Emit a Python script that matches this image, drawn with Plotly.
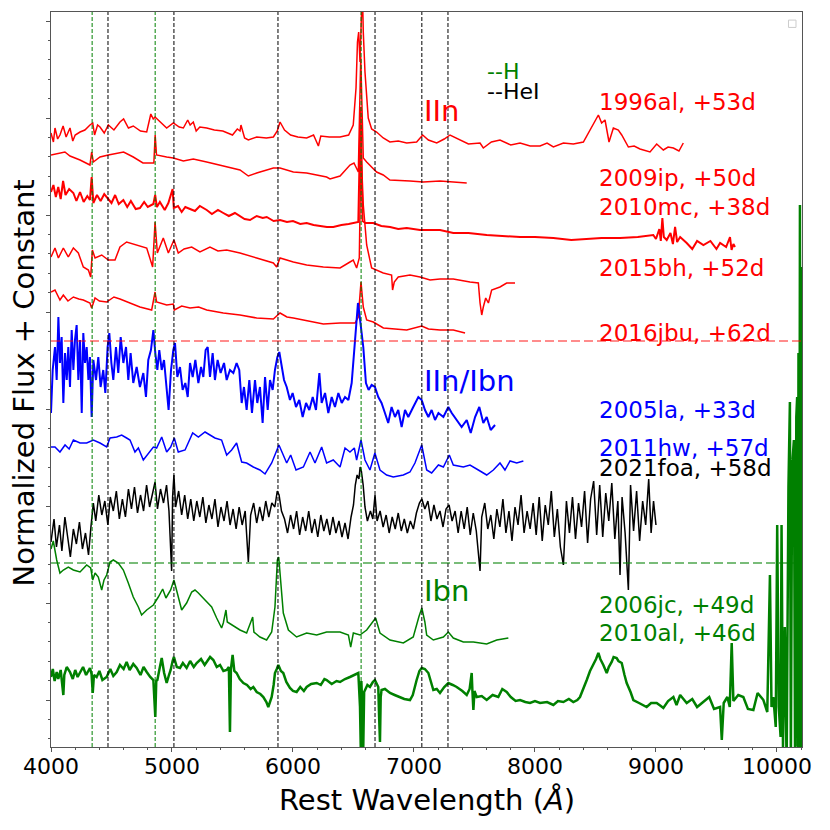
import plotly.graph_objects as go

# spectra: (rest wavelength [A], normalized flux + constant)
sn1996al = [(4000,614),(4020,605),(4033,619),(4055,608),(4074,612),(4100,621),(4125,610),(4157,619),(4180,606),(4200,612),
	(4240,615),(4280,617),(4322,622),(4345,624),(4360,612),(4385,622),(4405,620),(4440,614),(4474,622),(4520,617),
	(4570,625),(4600,628),(4640,619),(4680,621),(4740,616),(4791,615),(4825,633),(4845,628),(4860,630),(4900,625),
	(4956,619),(5011,624),(5060,620),(5094,619),(5130,627),(5150,622),(5176,625),(5200,616),(5230,620),(5287,619),
	(5350,617),(5420,616),(5500,612),(5540,618),(5562,616),(5570,622),(5600,609),(5631,607),(5700,610),(5780,609),
	(5838,610),(5870,616),(5893,625),(5930,617),(5980,612),(6040,610),(6113,609),(6170,612),(6210,601),(6230,611),
	(6300,610),(6389,610),(6460,612),(6498,622),(6521,659),(6533,705),(6543,715),(6554,685),(6565,722),(6573,760),
	(6581,715),(6595,675),(6622,629),(6650,618),(6691,615),(6746,609),(6801,605),(6870,606),(6940,604),(7022,605),
	(7072,612),(7119,607),(7188,604),(7250,608),(7298,612),(7381,607),(7450,603),(7546,604),(7573,599),(7640,605),
	(7711,607),(7800,602),(7877,604),(7960,601),(8042,601),(8100,604),(8152,600),(8235,604),(8317,603),(8400,605),
	(8441,614),(8483,624),(8524,632),(8551,624),(8579,627),(8612,605),(8648,619),(8689,617),(8717,612),(8772,600),
	(8820,601),(8868,598),(8951,595),(9006,603),(9061,597),(9100,600),(9144,599),(9190,596),(9226,604)]

sn2009ip = [(4000,592),(4074,594),(4115,595),(4157,591),(4240,587),(4322,582),(4336,595),(4350,585),(4405,590),(4474,592),
	(4570,594),(4600,595),(4680,590),(4760,584),(4791,584),(4850,584),(4861,612),(4872,592),(4956,590),(5011,589),
	(5094,586),(5176,588),(5287,585),(5452,580),(5562,577),(5631,571),(5700,574),(5838,579),(5893,579),(6003,575),
	(6113,574),(6278,570),(6306,568),(6389,571),(6471,582),(6504,584),(6540,575),(6560,690),(6581,589),(6609,585),
	(6691,575),(6746,572),(6801,567),(6967,566),(7077,565),(7215,566),(7436,564)]

sn2010mc = [(4000,555),(4020,562),(4040,550),(4060,560),(4080,548),(4100,566),(4120,552),(4150,558),(4185,554),(4210,546),
	(4240,555),(4270,545),(4300,551),(4322,547),(4336,570),(4350,544),(4380,552),(4410,546),(4440,553),(4460,550),
	(4500,544),(4530,552),(4560,543),(4598,547),(4630,540),(4660,546),(4700,538),(4735,539),(4770,545),(4800,540),
	(4846,543),(4861,552),(4875,540),(4900,545),(4940,537),(4970,544),(5005,558),(5015,539),(5050,541),(5080,535),
	(5110,540),(5149,538),(5190,536),(5230,541),(5287,537),(5330,533),(5380,537),(5424,534),(5470,531),(5520,534),
	(5562,531),(5600,528),(5645,527),(5700,531),(5750,529),(5783,530),(5840,526),(5893,527),(5950,525),(6000,526),
	(6060,523),(6113,524),(6170,522),(6230,521),(6280,520),(6333,520),(6400,522),(6460,523),(6499,524),(6540,525),
	(6559,640),(6575,526),(6600,524),(6664,524),(6730,521),(6802,520),(6870,518),(6940,519),(7050,517),(7215,517),
	(7325,514),(7450,514),(7601,512),(7740,511),(7877,510),(8000,510),(8152,509),(8300,507),(8428,508),(8550,509),
	(8703,509),(8850,510),(8978,512),(9000,508),(9028,518),(9040,506),(9053,529),(9065,510),(9089,507),(9120,514),
	(9140,503),(9158,520),(9175,505),(9200,510),(9254,504),(9300,498),(9340,506),(9392,502),(9450,506),(9500,498),
	(9530,504),(9580,500),(9612,510),(9625,497),(9640,503),(9653,500)]

sn2015bh = [(4000,490),(4033,499),(4061,489),(4102,499),(4143,490),(4185,499),(4226,494),(4267,480),(4309,477),(4328,470),
	(4342,497),(4364,489),(4419,492),(4474,487),(4529,487),(4570,500),(4625,505),(4708,502),(4791,499),(4840,480),
	(4860,525),(4879,494),(4928,509),(4970,494),(5016,507),(5052,494),(5100,498),(5163,500),(5231,495),(5314,500),
	(5380,496),(5452,497),(5562,494),(5700,489),(5838,484),(5865,480),(5893,489),(6003,485),(6113,482),(6251,480),
	(6389,479),(6471,485),(6498,487),(6526,479),(6548,489),(6562,600),(6581,542),(6609,502),(6650,479),(6746,474),
	(6815,472),(6823,457),(6837,465),(6870,470),(6967,472),(7050,470),(7133,467),(7215,468),(7325,468),(7463,465),
	(7532,464),(7546,444),(7560,432),(7573,440),(7593,449),(7615,444),(7642,457),(7711,460),(7766,464),(7835,464)]

sn2016jbu = [(4000,455),(4033,457),(4074,447),(4102,452),(4140,446),(4185,450),(4230,448),(4267,447),(4322,444),(4336,439),
	(4364,449),(4400,446),(4460,445),(4520,450),(4570,448),(4653,444),(4735,440),(4832,437),(4860,455),(4873,445),
	(4956,442),(5011,443),(5019,437),(5080,441),(5149,439),(5220,440),(5287,437),(5424,434),(5562,432),(5700,429),
	(5838,428),(5893,434),(5950,430),(6003,429),(6113,426),(6251,423),(6389,424),(6513,424),(6540,430),(6562,465),
	(6581,440),(6609,427),(6664,425),(6747,419),(6940,417),(7064,421),(7120,418),(7215,417),(7325,417),(7422,414)]

sn2005la = [(4000,334),(4014,377),(4033,400),(4047,367),(4061,430),(4074,384),(4088,410),(4102,344),(4116,394),(4130,367),
	(4143,400),(4157,360),(4171,417),(4185,377),(4198,407),(4212,422),(4226,367),(4240,407),(4254,334),(4267,414),
	(4281,384),(4295,400),(4309,367),(4322,390),(4336,330),(4350,387),(4372,367),(4391,390),(4410,360),(4432,377),
	(4449,354),(4468,400),(4482,414),(4499,384),(4515,367),(4537,400),(4556,374),(4576,410),(4598,384),(4620,400),
	(4639,367),(4658,394),(4680,364),(4708,380),(4735,360),(4763,374),(4785,350),(4804,387),(4826,397),(4846,417),
	(4862,394),(4879,377),(4895,397),(4915,377),(4934,387),(4956,357),(4972,337),(4992,377),(5011,397),(5025,404),
	(5044,370),(5066,380),(5088,357),(5110,364),(5130,350),(5149,384),(5171,370),(5193,387),(5218,364),(5240,380),
	(5259,370),(5278,397),(5295,400),(5314,370),(5336,394),(5355,367),(5377,387),(5402,374),(5430,384),(5452,367),
	(5479,377),(5507,374),(5534,384),(5556,377),(5576,344),(5595,360),(5617,337),(5639,367),(5661,334),(5686,367),
	(5705,344),(5727,360),(5749,324),(5769,370),(5791,337),(5810,367),(5832,357),(5851,377),(5871,390),(5887,395),
	(5906,380),(5926,367),(5948,360),(5975,347),(5997,354),(6025,340),(6052,347),(6080,330),(6108,344),(6135,337),
	(6163,350),(6190,337),(6218,374),(6237,344),(6265,354),(6292,334),(6320,350),(6347,340),(6375,354),(6403,344),
	(6430,350),(6458,347),(6485,364),(6504,394),(6521,424),(6537,444),(6548,434),(6562,420),(6581,400),(6603,364),
	(6625,357),(6650,362),(6677,360),(6705,350),(6732,344),(6760,334),(6787,324),(6815,340),(6843,330),(6870,337),
	(6898,320),(6926,337),(6953,330),(6994,340),(7036,350),(7064,347),(7091,337),(7119,330),(7146,337),(7174,327),
	(7202,334),(7243,330),(7284,340),(7312,334),(7353,327),(7394,320),(7436,327),(7469,314),(7505,330),(7540,340),
	(7573,324),(7601,330),(7634,317),(7670,322)]

sn2011hw = [(4000,300),(4033,300),(4074,295),(4116,302),(4150,298),(4185,307),(4240,304),(4295,304),(4350,307),(4405,304),
	(4460,300),(4488,309),(4543,310),(4584,312),(4625,309),(4653,307),(4694,295),(4722,299),(4763,287),(4804,294),
	(4846,300),(4873,299),(4915,310),(4956,295),(4989,300),(5019,309),(5052,295),(5108,297),(5171,314),(5218,310),
	(5273,315),(5314,312),(5355,309),(5410,307),(5452,292),(5493,297),(5534,304),(5576,285),(5617,284),(5672,280),
	(5727,277),(5769,273),(5824,284),(5884,302),(5948,284),(5981,292),(6025,277),(6086,280),(6141,295),(6182,284),
	(6237,300),(6278,284),(6333,287),(6389,280),(6430,299),(6471,295),(6507,299),(6526,287),(6562,307),(6595,287),
	(6636,277),(6677,294),(6719,277),(6774,272),(6829,270),(6912,272),(6967,275),(7008,284),(7064,302),(7105,277),
	(7146,274),(7202,282),(7243,280),(7292,292),(7325,282),(7408,280),(7463,282),(7532,277),(7601,272),(7656,277),
	(7711,284),(7752,277),(7794,286),(7849,284),(7904,286)]

sn2021foa = [(4000,205),(4025,228),(4045,200),(4070,222),(4090,196),(4115,230),(4140,208),(4160,190),(4185,218),(4210,203),
	(4235,225),(4260,198),(4285,214),(4310,192),(4330,220),(4350,244),(4370,226),(4395,252),(4420,232),(4445,246),
	(4470,222),(4490,250),(4515,236),(4540,256),(4565,228),(4590,248),(4615,230),(4640,258),(4665,238),(4690,260),
	(4715,234),(4740,252),(4765,236),(4790,262),(4815,240),(4840,255),(4860,265),(4880,238),(4905,258),(4930,244),
	(4955,262),(4975,236),(4997,176),(5005,250),(5016,272),(5030,240),(5055,256),(5080,232),(5105,252),(5130,228),
	(5155,248),(5180,226),(5205,246),(5230,230),(5255,250),(5280,224),(5305,242),(5330,228),(5355,248),(5380,220),
	(5405,240),(5430,226),(5455,246),(5480,222),(5505,238),(5530,218),(5555,240),(5580,222),(5605,236),(5631,185),
	(5650,232),(5675,244),(5700,224),(5725,240),(5750,226),(5775,246),(5800,230),(5825,244),(5850,240),(5870,256),
	(5885,252),(5905,236),(5930,228),(5955,214),(5980,232),(6005,218),(6030,236),(6055,212),(6080,230),(6105,216),
	(6130,236),(6155,214),(6180,228),(6205,210),(6230,232),(6255,216),(6280,228),(6305,212),(6330,230),(6355,214),
	(6380,226),(6405,210),(6430,224),(6455,208),(6480,230),(6500,242),(6515,262),(6530,272),(6545,268),(6555,280),
	(6565,276),(6580,262),(6595,240),(6615,226),(6640,236),(6660,228),(6678,252),(6695,226),(6720,236),(6745,220),
	(6770,232),(6795,214),(6820,230),(6845,218),(6870,234),(6895,216),(6920,228),(6945,214),(6970,226),(6995,218),
	(7020,234),(7045,244),(7065,248),(7090,238),(7115,246),(7140,226),(7165,242),(7190,228),(7215,236),(7240,220),
	(7265,238),(7290,242),(7315,226),(7340,236),(7365,214),(7390,236),(7415,218),(7440,240),(7465,212),(7490,234),
	(7515,216),(7546,176),(7560,230),(7585,244),(7610,218),(7635,232),(7660,208),(7685,238),(7710,220),(7735,248),
	(7760,214),(7785,236),(7810,206),(7835,240),(7860,222),(7885,252),(7910,214),(7935,236),(7960,218),(7985,244),
	(8010,212),(8035,250),(8060,206),(8085,242),(8110,222),(8135,256),(8160,210),(8185,238),(8210,200),(8235,182),
	(8260,246),(8285,214),(8310,250),(8335,208),(8360,244),(8385,220),(8410,256),(8435,204),(8460,248),(8485,266),
	(8510,212),(8535,262),(8560,210),(8585,254),(8610,226),(8635,264),(8660,208),(8685,246),(8703,172),(8720,250),
	(8745,214),(8772,157),(8790,262),(8815,216),(8840,256),(8865,206),(8890,246),(8915,222),(8940,268),(8960,214),
	(8980,246),(9000,222)]

sn2006jc = [(4000,198),(4019,206),(4047,187),(4074,174),(4102,177),(4143,180),(4185,177),(4240,175),(4295,182),(4328,179),
	(4345,167),(4364,174),(4391,170),(4419,157),(4438,167),(4460,172),(4488,185),(4515,187),(4556,184),(4598,177),
	(4639,164),(4680,150),(4722,140),(4749,132),(4791,137),(4846,142),(4887,150),(4923,158),(4950,149),(4989,157),
	(5016,167),(5044,154),(5080,137),(5121,144),(5163,155),(5190,157),(5218,154),(5273,147),(5328,140),(5369,129),
	(5410,119),(5424,124),(5446,137),(5457,125),(5493,122),(5562,117),(5617,114),(5667,130),(5677,115),(5727,110),
	(5782,107),(5824,115),(5851,140),(5871,187),(5882,190),(5898,167),(5920,134),(5962,117),(6030,110),(6113,114),
	(6196,112),(6278,115),(6389,115),(6458,112),(6477,100),(6499,114),(6554,112),(6609,117),(6658,125),(6683,129),
	(6719,114),(6802,107),(6912,104),(6994,110),(7040,130),(7065,139),(7090,125),(7105,112),(7160,107),(7243,110),
	(7284,115),(7325,109),(7408,105),(7491,105),(7601,103),(7684,107),(7780,109)]

sn2010al = [(4000,70),(4015,78),(4030,66),(4047,75),(4060,68),(4080,77),(4102,52),(4110,72),(4130,80),(4157,75),
	(4180,68),(4200,77),(4220,70),(4240,74),(4265,80),(4290,72),(4322,79),(4335,73),(4345,54),(4355,72),
	(4377,70),(4400,76),(4425,67),(4460,70),(4490,78),(4515,71),(4543,75),(4570,82),(4600,78),(4625,85),
	(4650,77),(4680,83),(4708,79),(4740,72),(4765,80),(4791,75),(4820,70),(4846,67),(4862,30),(4870,66),
	(4879,67),(4900,80),(4915,89),(4935,74),(4956,64),(4975,72),(4989,77),(5005,86),(5016,90),(5040,80),
	(5066,79),(5090,84),(5121,79),(5150,86),(5180,80),(5204,84),(5240,88),(5270,82),(5287,85),(5315,90),
	(5342,87),(5370,80),(5397,82),(5425,76),(5452,77),(5470,80),(5479,15),(5487,78),(5501,92),(5515,76),
	(5534,74),(5560,68),(5590,64),(5620,62),(5650,58),(5672,60),(5700,55),(5730,53),(5755,50),(5780,45),
	(5796,40),(5810,46),(5824,50),(5840,62),(5851,74),(5866,78),(5879,82),(5900,76),(5920,74),(5945,65),
	(5975,59),(6000,56),(6030,55),(6060,60),(6090,56),(6113,60),(6150,63),(6196,64),(6230,62),(6260,68),
	(6278,67),(6320,63),(6360,66),(6389,65),(6430,68),(6471,70),(6510,72),(6540,74),(6554,40),(6560,0),
	(6565,66),(6570,50),(6576,-5),(6581,0),(6588,55),(6595,57),(6615,62),(6636,60),(6660,65),(6677,67),
	(6695,62),(6705,60),(6712,30),(6719,5),(6725,50),(6732,57),(6760,58),(6802,54),(6840,52),(6884,50),
	(6920,48),(6967,47),(6990,52),(7022,67),(7045,76),(7064,79),(7090,78),(7119,74),(7140,65),(7160,57),
	(7188,58),(7215,54),(7250,60),(7284,64),(7320,62),(7353,60),(7400,56),(7436,52),(7460,58),(7470,70),
	(7477,74),(7483,56),(7491,37),(7500,56),(7518,50),(7560,51),(7601,47),(7650,52),(7697,50),(7730,58),
	(7766,55),(7800,50),(7840,46),(7877,47),(7920,45),(7959,44),(8000,46),(8042,44),(8100,45),(8152,42),
	(8190,46),(8235,45),(8280,48),(8317,45),(8350,47),(8372,50),(8400,58),(8428,67),(8455,76),(8483,82),
	(8505,88),(8524,94),(8540,88),(8565,82),(8593,74),(8610,80),(8634,85),(8650,90),(8675,89),(8690,86),
	(8717,84),(8740,72),(8758,64),(8790,55),(8813,47),(8860,44),(8923,40),(8960,44),(9006,44),(9040,41),
	(9061,39),(9100,46),(9144,50),(9170,42),(9200,52),(9254,44),(9300,48),(9340,40),(9392,45),(9440,50),
	(9480,38),(9530,40),(9544,7),(9560,44),(9590,50),(9610,40),(9626,104),(9640,46),(9680,52),(9722,50),
	(9760,38),(9805,37),(9840,54),(9888,47),(9920,35),(9942,172),(9955,40),(9970,50),(9990,20),(10002,222),
	(10015,40),(10030,10),(10038,222),(10050,0),(10065,120),(10080,-20),(10095,260),(10107,345),(10115,-20),(10125,280),
	(10140,307),(10150,-20),(10160,330),(10167,350),(10172,-20),(10178,394),(10184,-20),(10190,542),(10195,-20),(10200,480),
	(10205,-20)]

# name, data, colour, line width, label height
spectra = [
	('1996al, +53d', sn1996al, 'red', 1.5, 645),
	('2009ip, +50d', sn2009ip, 'red', 1.5, 569),
	('2010mc, +38d', sn2010mc, 'red', 2, 540),
	('2015bh, +52d', sn2015bh, 'red', 1.5, 479),
	('2016jbu, +62d', sn2016jbu, 'red', 1.5, 414),
	('2005la, +33d', sn2005la, 'blue', 2, 337),
	('2011hw, +57d', sn2011hw, 'blue', 1.5, 299),
	('2021foa, +58d', sn2021foa, 'black', 1.5, 279),
	('2006jc, +49d', sn2006jc, 'green', 1.5, 142),
	('2010al, +46d', sn2010al, 'green', 2.5, 114),
]

h_lines = [4340, 4861, 6563]
hei_lines = [4471, 5016, 5876, 6678, 7065, 7281]

# class labels: text, colour, height
classes = [('IIn', 'red', 636), ('IIn/Ibn', 'blue', 366), ('Ibn', 'green', 156)]

fig = go.Figure()

for name, pts, col, lw, lab_y in spectra:
	wl, fl = zip(*pts)
	fig.add_trace(go.Scatter(
		x = wl,
		y = fl,
		mode = 'lines',
		name = name,
		line = dict(color = col, width = lw),
	))
	fig.add_annotation(
		x = 8510, y = lab_y, xref = 'x', yref = 'y',
		text = name, showarrow = False,
		xanchor = 'left', yanchor = 'middle',
		font = dict(size = 23, color = col),
	)

for w in h_lines:
	fig.add_vline(x = w, line = dict(color = 'green', width = 1, dash = '4px,2px'))
for w in hei_lines:
	fig.add_vline(x = w, line = dict(color = 'black', width = 1, dash = '4px,2px'))

# class separators
fig.add_hline(y = 406, line = dict(color = 'rgba(255,0,0,0.6)', width = 1.5, dash = '9px,4px'))
fig.add_hline(y = 184, line = dict(color = 'rgba(0,128,0,0.7)', width = 1.5, dash = '9px,4px'))

for txt, col, yy in classes:
	fig.add_annotation(
		x = 7070, y = yy, xref = 'x', yref = 'y',
		text = txt, showarrow = False,
		xanchor = 'left', yanchor = 'middle',
		font = dict(size = 29, color = col),
	)

fig.add_annotation(x = 7585, y = 676, xref = 'x', yref = 'y', text = '--H', showarrow = False,
	xanchor = 'left', yanchor = 'middle', font = dict(size = 22, color = 'green'))
fig.add_annotation(x = 7585, y = 656, xref = 'x', yref = 'y', text = '--HeI', showarrow = False,
	xanchor = 'left', yanchor = 'middle', font = dict(size = 22, color = 'black'))

# axis titles
fig.add_annotation(x = -0.036, y = 0.496, xref = 'paper', yref = 'paper', text = 'Normalized Flux + Constant',
	textangle = -90, showarrow = False, xanchor = 'center', yanchor = 'middle', font = dict(size = 29))
fig.add_annotation(x = 0.5, y = -0.072, xref = 'paper', yref = 'paper', text = 'Rest Wavelength (<i>Å</i>)',
	showarrow = False, xanchor = 'center', yanchor = 'middle', font = dict(size = 29))

# empty legend box
fig.add_shape(type = 'rect', xref = 'paper', yref = 'paper', x0 = 0.982, x1 = 0.992, y0 = 0.979, y1 = 0.989,
	line = dict(color = '#cccccc', width = 1))

# page has an 8px body margin, so shift the plot area up/left by that much
fig.update_layout(
	width = 830, height = 830,
	margin = dict(l = 43, r = 36, t = 4, b = 91),
	plot_bgcolor = 'white', paper_bgcolor = 'white',
	showlegend = False,
	font = dict(family = 'DejaVu Sans', color = 'black'),
)
fig.update_xaxes(
	range = [4000, 10207], tick0 = 4000, dtick = 1000, tickformat = 'd',
	ticks = 'outside', ticklen = 4, tickcolor = '#555', tickfont = dict(size = 22),
	ticklabelstandoff = -4,
	showline = True, mirror = True, linecolor = '#555', linewidth = 1,
	showgrid = False, zeroline = False,
	minor = dict(ticks = 'outside', ticklen = 2, dtick = 200, tick0 = 4000, tickcolor = '#555'),
)
fig.update_yaxes(
	range = [0, 735], tick0 = 47, dtick = 97, showticklabels = False,
	ticks = 'outside', ticklen = 4, tickcolor = '#555',
	showline = True, mirror = True, linecolor = '#555', linewidth = 1,
	showgrid = False, zeroline = False,
	minor = dict(ticks = 'outside', ticklen = 2, dtick = 19.4, tick0 = 47, tickcolor = '#555'),
)

fig.write_html('out.html')
